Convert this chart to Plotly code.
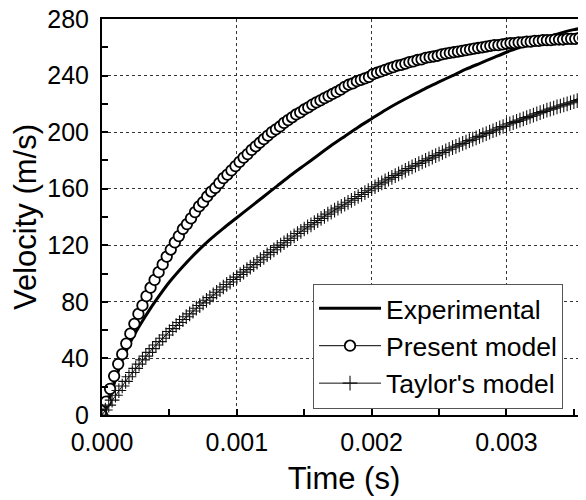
import plotly.graph_objects as go

# ---- data (time in ms, velocity in m/s) ----
exp_t = [0, 0.02, 0.05, 0.10, 0.146, 0.20, 0.25, 0.30, 0.35, 0.40, 0.50, 0.60, 0.70, 0.80, 0.90,
         1.0, 1.1, 1.2, 1.3, 1.4, 1.5, 1.6, 1.7, 1.8, 1.9, 2.0, 2.1, 2.2, 2.3, 2.4,
         2.5, 2.6, 2.7, 2.8, 2.9, 3.0, 3.1, 3.2, 3.3, 3.4, 3.5, 3.6]
exp_v = [0, 1.5, 10, 25, 38, 49.5, 58.5, 66.5, 74, 81, 94, 105, 115, 124, 132,
         139.5, 147, 154.5, 162, 169.5, 176.5, 183.5, 190.5, 197, 203.5, 209.5, 215.5, 221, 226, 231,
         235.5, 240, 244.5, 248.5, 252.5, 256.5, 260, 263.5, 267, 270, 272.5, 274]

present_t = [0.00, 0.03, 0.06, 0.09, 0.12, 0.15, 0.18, 0.21, 0.24, 0.27,
             0.30, 0.33, 0.36, 0.39, 0.42, 0.45, 0.48, 0.51, 0.54, 0.57,
             0.60, 0.63, 0.66, 0.69, 0.72, 0.75, 0.78, 0.81, 0.84, 0.87,
             0.90, 0.93, 0.96, 0.99, 1.02, 1.05, 1.08, 1.11, 1.14, 1.17,
             1.20, 1.23, 1.26, 1.29, 1.32, 1.35, 1.38, 1.41, 1.44, 1.47,
             1.50, 1.53, 1.56, 1.59, 1.62, 1.65, 1.68, 1.71, 1.74, 1.77,
             1.80, 1.83, 1.86, 1.89, 1.92, 1.95, 1.98, 2.01, 2.04, 2.07,
             2.10, 2.13, 2.16, 2.19, 2.22, 2.25, 2.28, 2.31, 2.34, 2.37,
             2.40, 2.43, 2.46, 2.49, 2.52, 2.55, 2.58, 2.61, 2.64, 2.67,
             2.70, 2.73, 2.76, 2.79, 2.82, 2.85, 2.88, 2.91, 2.94, 2.97,
             3.00, 3.03, 3.06, 3.09, 3.12, 3.15, 3.18, 3.21, 3.24, 3.27,
             3.30, 3.33, 3.36, 3.39, 3.42, 3.45, 3.48, 3.51, 3.54, 3.57]
present_v = [0, 9.5, 18.5, 27.5, 36, 43, 50.5, 57.5, 64.5, 71.5,
             77.5, 84, 90, 95.5, 101, 106.5, 112, 117, 122, 126.5,
             131.5, 135, 139, 143.5, 147.5, 150.5, 154.5, 158, 160.5, 164,
             167.5, 170, 173, 176, 179, 182, 184.5, 187.5, 190, 192.5,
             195, 197.5, 200, 202, 204, 206.5, 208.5, 210.5, 212.5, 214,
             216, 217.5, 219.5, 221, 222.5, 224, 225.5, 227, 228.5, 230,
             232, 233.5, 234.5, 236, 237, 238, 239, 241, 242, 243,
             244, 245, 246, 247, 247.5, 248.5, 249.5, 250, 251, 251.5,
             252.5, 253, 253.5, 254, 255, 255.5, 256, 256.5, 257, 257.5,
             258, 258.5, 259, 259.5, 260, 260.5, 261, 261.5, 261.5, 262,
             262.5, 263, 263, 263.5, 263.5, 264, 264, 264.5, 264.5, 265,
             265, 265, 265.5, 265.5, 265.5, 266, 266, 266, 266.5, 266.5]

taylor_t = [0.000, 0.025, 0.050, 0.075, 0.100, 0.125, 0.150, 0.175, 0.200, 0.225,
            0.250, 0.275, 0.300, 0.325, 0.350, 0.375, 0.400, 0.425, 0.450, 0.475,
            0.500, 0.525, 0.550, 0.575, 0.600, 0.625, 0.650, 0.675, 0.700, 0.725,
            0.750, 0.775, 0.800, 0.825, 0.850, 0.875, 0.900, 0.925, 0.950, 0.975,
            1.000, 1.025, 1.050, 1.075, 1.100, 1.125, 1.150, 1.175, 1.200, 1.225,
            1.250, 1.275, 1.300, 1.325, 1.350, 1.375, 1.400, 1.425, 1.450, 1.475,
            1.500, 1.525, 1.550, 1.575, 1.600, 1.625, 1.650, 1.675, 1.700, 1.725,
            1.750, 1.775, 1.800, 1.825, 1.850, 1.875, 1.900, 1.925, 1.950, 1.975,
            2.000, 2.025, 2.050, 2.075, 2.100, 2.125, 2.150, 2.175, 2.200, 2.225,
            2.250, 2.275, 2.300, 2.325, 2.350, 2.375, 2.400, 2.425, 2.450, 2.475,
            2.500, 2.525, 2.550, 2.575, 2.600, 2.625, 2.650, 2.675, 2.700, 2.725,
            2.750, 2.775, 2.800, 2.825, 2.850, 2.875, 2.900, 2.925, 2.950, 2.975,
            3.000, 3.025, 3.050, 3.075, 3.100, 3.125, 3.150, 3.175, 3.200, 3.225,
            3.250, 3.275, 3.300, 3.325, 3.350, 3.375, 3.400, 3.425, 3.450, 3.475,
            3.500, 3.525, 3.550, 3.575, 3.600]
taylor_v = [0, 3.5, 7, 10.5, 14, 17.3, 20.5, 23.8, 27, 30,
            33, 36, 39, 41.6, 44.3, 46.9, 49.5, 51.9, 54.3, 56.6,
            59, 61.1, 63.3, 65.4, 67.5, 69.5, 71.5, 73.5, 75.5, 77.4,
            79.3, 81.1, 83, 84.9, 86.8, 88.6, 90.5, 92.3, 94, 95.8,
            97.5, 99.3, 101, 102.8, 104.5, 106.3, 108, 109.8, 111.5, 113.3,
            115, 116.8, 118.5, 120.1, 121.8, 123.4, 125, 126.6, 128.3, 129.9,
            131.5, 133, 134.5, 136, 137.5, 139, 140.5, 142, 143.5, 144.9,
            146.3, 147.6, 149, 150.4, 151.8, 153.1, 154.5, 155.9, 157.3, 158.6,
            160, 161.4, 162.8, 164.1, 165.5, 166.8, 168, 169.3, 170.5, 171.8,
            173, 174.3, 175.5, 176.6, 177.8, 178.9, 180, 181.1, 182.3, 183.4,
            184.5, 185.6, 186.8, 187.9, 189, 190, 191, 192, 193, 194,
            195, 196, 197, 198, 199, 200, 201, 202, 203, 204,
            205, 205.9, 206.8, 207.6, 208.5, 209.4, 210.3, 211.1, 212, 212.9,
            213.8, 214.6, 215.5, 216.3, 217, 217.8, 218.5, 219.3, 220, 220.8,
            221.5, 222.3, 223, 223.8, 224.5]

x_tickvals = [0, 1, 2, 3]
x_ticktext = ["0.000", "0.001", "0.002", "0.003"]
y_tickvals = [0, 40, 80, 120, 160, 200, 240, 280]

FONT = "Arial, 'Liberation Sans', sans-serif"

fig = go.Figure()
fig.add_trace(go.Scatter(
    x=exp_t, y=exp_v, mode="lines", name="Experimental",
    line=dict(color="black", width=3, shape="spline", smoothing=0.6)))
fig.add_trace(go.Scatter(
    x=present_t, y=present_v, mode="lines+markers", name="Present model",
    line=dict(color="black", width=1),
    marker=dict(symbol="circle", size=10.5, color="white",
                line=dict(color="black", width=1.8))))
fig.add_trace(go.Scatter(
    x=taylor_t, y=taylor_v, mode="lines+markers", name="Taylor's model",
    line=dict(color="#111111", width=1),
    marker=dict(symbol="cross-thin", size=10.5, color="#111111",
                line=dict(color="#111111", width=1.1))))

axis_common = dict(
    showline=True, linecolor="black", linewidth=2,
    ticks="inside", ticklen=6, tickwidth=1.5, tickcolor="black",
    showgrid=True, gridcolor="#333333", gridwidth=1, griddash="3px,3px",
    zeroline=False, automargin=False, ticklabeloverflow="allow",
    tickfont=dict(family=FONT, size=25, color="black"),
)

fig.update_xaxes(
    **axis_common,
    range=[0, 3.59], tickvals=x_tickvals, ticktext=x_ticktext,
    mirror=True, ticklabelstandoff=4,
    minor=dict(ticks="inside", ticklen=6, tickwidth=1.5, tickcolor="black",
               dtick=0.5, showgrid=False),
    title=dict(text="Time (s)", font=dict(family=FONT, size=31, color="black"),
               standoff=12),
)
fig.update_yaxes(
    **axis_common,
    range=[0, 280], tickvals=y_tickvals, ticklabelstandoff=6,
    minor=dict(ticks="inside", ticklen=6, tickwidth=1.5, tickcolor="black",
               dtick=20, showgrid=False),
    title=dict(text="Velocity (m/s)", font=dict(family=FONT, size=31, color="black"),
               standoff=5),
)

# page body has an 8px default margin, so margins are offset to place the
# plot area at the reference position (left 102, top 19, bottom 415 on screen)
fig.update_layout(
    width=586, height=500,
    margin=dict(l=94, r=8, t=11, b=93),
    plot_bgcolor="white", paper_bgcolor="white",
    showlegend=True,
    legend=dict(
        x=0.436, y=0.332, xanchor="left", yanchor="top",
        bgcolor="white", bordercolor="#555555", borderwidth=1,
        font=dict(family=FONT, size=26.5, color="black"),
        itemwidth=62, tracegroupgap=0,
    ),
)

fig.write_html("out.html")
